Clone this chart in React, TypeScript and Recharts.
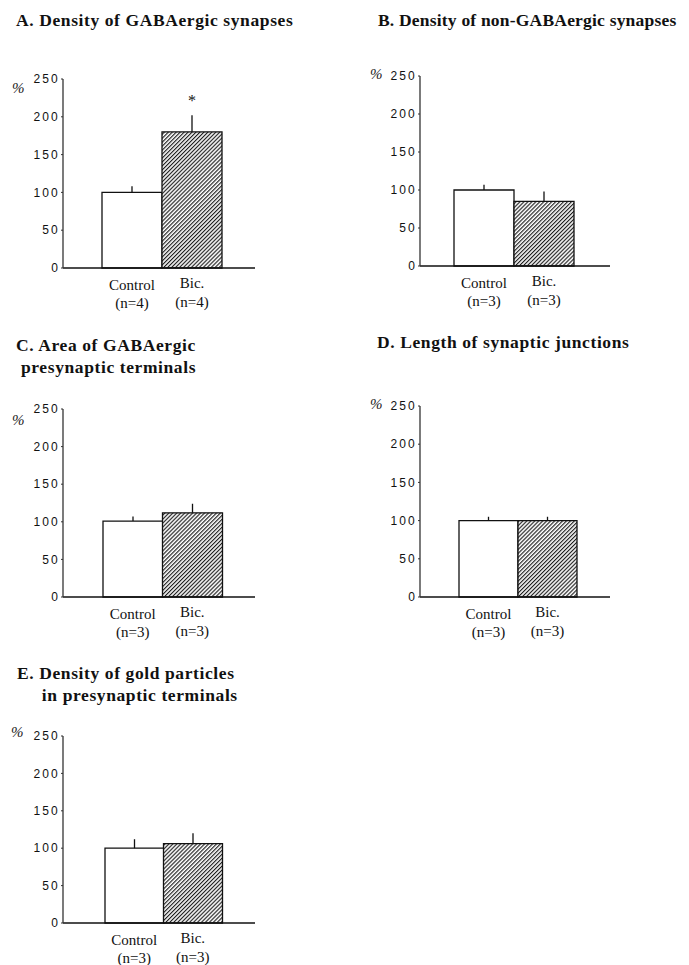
import { Bar, BarChart, Cell, ErrorBar, LabelList, XAxis, YAxis } from 'recharts';

const groups = ['Control', 'Bic.'];
const yTicks = [0, 50, 100, 150, 200, 250];

const aValues = [100, 180];
const aErrors = [8, 22];
const aSamples = ['(n=4)', '(n=4)'];
const aMarks = ['', '*'];

const bValues = [100, 85];
const bErrors = [7, 13];
const bSamples = ['(n=3)', '(n=3)'];

const cValues = [101, 112];
const cErrors = [6, 12];
const cSamples = ['(n=3)', '(n=3)'];

const dValues = [100, 100];
const dErrors = [5, 5];
const dSamples = ['(n=3)', '(n=3)'];

const eValues = [100, 106];
const eErrors = [12, 14];
const eSamples = ['(n=3)', '(n=3)'];

const SERIF = '"Liberation Serif", "DejaVu Serif", serif';
const SANS = '"Liberation Sans", Arial, sans-serif';

type Box = { x0: number; x1: number; y0: number; y1: number; bx0: number; bx1: number };

function buildRows(values: number[], errors: number[], samples: string[], marks?: string[]) {
  return groups.map((name, i) => ({
    name,
    value: values[i],
    err: [0, errors[i]],
    n: samples[i],
    mark: marks ? marks[i] : '',
  }));
}

function GroupTick(props: any) {
  const { x, y, payload, index, rows } = props;
  const first = index === 0;
  return (
    <g transform={`translate(${x},${y})`}>
      <text dominantBaseline="central" fill="#111" fontFamily={SERIF} fontSize={15} textAnchor="middle" y={first ? 17 : 15}>
        {payload.value}
      </text>
      <text dominantBaseline="central" fill="#111" fontFamily={SERIF} fontSize={15} textAnchor="middle" y={first ? 35 : 34}>
        {rows[index]?.n}
      </text>
    </g>
  );
}

function Panel({ box, rows, id }: { box: Box; rows: any[]; id: string }) {
  const left = 60;
  const top = 12;
  const width = box.x1 - box.x0 + left + 8;
  const height = box.y1 - box.y0 + top + 46;
  return (
    <div style={{ left: box.x0 - left, position: 'absolute', top: box.y0 - top }}>
      <BarChart
        barCategoryGap={0}
        data={rows}
        height={height}
        margin={{ bottom: 0, left: 0, right: 8, top }}
        width={width}
      >
        <defs>
          <pattern
            height={2.8}
            id={`hatch-${id}`}
            patternTransform="rotate(45)"
            patternUnits="userSpaceOnUse"
            width={2.8}
          >
            <rect fill="#fff" height={2.8} width={2.8} />
            <line stroke="#111" strokeWidth={1.1} x1={0.6} x2={0.6} y1={0} y2={2.8} />
          </pattern>
        </defs>
        <XAxis
          axisLine={{ stroke: '#111', strokeWidth: 1.3 }}
          dataKey="name"
          height={46}
          interval={0}
          padding={{ left: box.bx0 - box.x0, right: box.x1 - box.bx1 }}
          tick={<GroupTick rows={rows} />}
          tickLine={false}
          tickMargin={0}
          tickSize={0}
        />
        <YAxis
          axisLine={{ stroke: '#333', strokeWidth: 1.3 }}
          domain={[0, 250]}
          tick={{ fill: '#111', fontFamily: SANS, fontSize: 12, letterSpacing: 2.2 }}
          tickLine={{ stroke: '#333' }}
          tickMargin={1}
          tickSize={2}
          ticks={yTicks}
          width={left}
        />
        <Bar dataKey="value" isAnimationActive={false} stroke="#111" strokeWidth={1.3}>
          {rows.map((_, i) => (
            <Cell fill={i === 0 ? '#fff' : `url(#hatch-${id})`} key={i} />
          ))}
          <ErrorBar dataKey="err" direction="y" stroke="#111" strokeWidth={1.3} width={0} />
          <LabelList dataKey="mark" fill="#111" fontFamily={SERIF} fontSize={16} offset={26} position="top" />
        </Bar>
      </BarChart>
    </div>
  );
}

function Title({ left, top, lines, spacing = 0.6 }: { left: number; top: number; lines: string[]; spacing?: number }) {
  return (
    <div
      style={{
        color: '#111',
        fontFamily: SERIF,
        fontSize: 17.5,
        fontWeight: 'bold',
        left,
        letterSpacing: spacing,
        lineHeight: '22px',
        position: 'absolute',
        top,
        whiteSpace: 'pre',
      }}
    >
      {lines.join('\n')}
    </div>
  );
}

function Percent({ left, top }: { left: number; top: number }) {
  return (
    <div
      style={{
        color: '#222',
        fontFamily: SERIF,
        fontSize: 15,
        fontStyle: 'italic',
        left,
        position: 'absolute',
        top,
      }}
    >
      %
    </div>
  );
}

export default function App() {
  return (
    <div style={{ background: '#fff', height: 965, left: 0, overflow: 'hidden', position: 'absolute', top: 0, width: 689 }}>
      <Title left={16} lines={['A. Density of GABAergic synapses']} top={9} />
      <Percent left={12} top={80} />
      <Panel
        box={{ bx0: 102, bx1: 222, x0: 63, x1: 255, y0: 79, y1: 268 }}
        id="a"
        rows={buildRows(aValues, aErrors, aSamples, aMarks)}
      />

      <Title left={378} lines={['B. Density of non-GABAergic synapses']} spacing={0.2} top={9} />
      <Percent left={370} top={66} />
      <Panel
        box={{ bx0: 454, bx1: 574, x0: 420, x1: 610, y0: 76, y1: 266 }}
        id="b"
        rows={buildRows(bValues, bErrors, bSamples)}
      />

      <Title left={16} lines={['C. Area of GABAergic', ' presynaptic terminals']} top={334} />
      <Percent left={12} top={412} />
      <Panel
        box={{ bx0: 103, bx1: 222, x0: 63, x1: 255, y0: 409, y1: 597 }}
        id="c"
        rows={buildRows(cValues, cErrors, cSamples)}
      />

      <Title left={377} lines={['D. Length of synaptic junctions']} top={331} />
      <Percent left={370} top={396} />
      <Panel
        box={{ bx0: 459, bx1: 577, x0: 420, x1: 610, y0: 406, y1: 597 }}
        id="d"
        rows={buildRows(dValues, dErrors, dSamples)}
      />

      <Title left={17} lines={['E. Density of gold particles', '     in presynaptic terminals']} top={662} />
      <Percent left={11} top={724} />
      <Panel
        box={{ bx0: 105, bx1: 222, x0: 63, x1: 255, y0: 736, y1: 923 }}
        id="e"
        rows={buildRows(eValues, eErrors, eSamples)}
      />
    </div>
  );
}
